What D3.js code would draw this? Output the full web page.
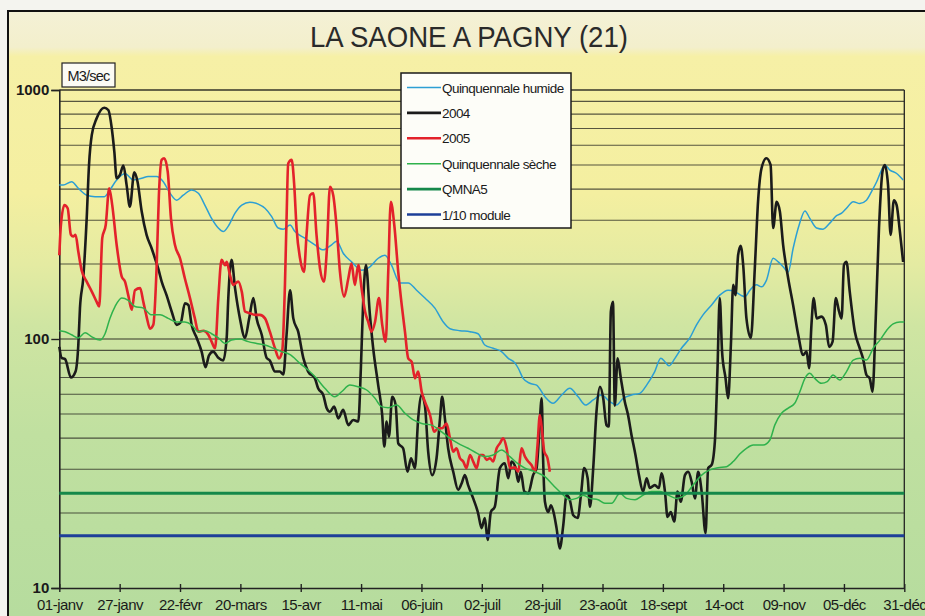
<!doctype html>
<html>
<head>
    <meta charset="utf-8">
    <title>La Saone a Pagny</title>
    <script src="https://d3js.org/d3.v7.min.js"></script>
    <style>
        body { margin: 0; background: #f4f4ef; }
        text { font-family: "Liberation Sans", Arial, sans-serif; }
    </style>
</head>
<body>
<div id="chart"></div>
<script>

    const tickDays = [0, 26, 52, 78, 104, 130, 156, 182, 208, 234, 260, 286, 312, 338, 364];
    const tickLabels = ["01-janv", "27-janv", "22-févr", "20-mars", "15-avr", "11-mai", "06-juin",
        "02-juil", "28-juil", "23-août", "18-sept", "14-oct", "09-nov", "05-déc", "31-déc"];
    const yTicks = [10, 100, 1000];

    const quinqHumide = [[0,415],[1.7,415],[5.3,428],[8.2,403],[11.8,378],[15.4,373],[19.4,373],[21.8,397],[24.7,435],[28.3,462],[31.9,435],[35.5,442],[38.3,449],[41.9,449],[44.8,428],[47.7,385],[50.6,361],[53.4,378],[57,397],[59.9,385],[62.7,345],[65.6,305],[68.5,279],[70.6,270],[72.8,284],[75.7,320],[78.6,345],[82.1,354],[85.7,348],[88.6,335],[91.5,310],[94.3,279],[96.5,276],[99.4,287],[101.5,270],[105.8,254],[110.1,239],[113.7,228],[117.3,239],[119.5,247],[122.3,221],[125.9,204],[130.2,189],[133.8,195],[137.4,211],[140.3,217],[143.1,198],[146.7,168],[150.3,168],[153.9,157],[157.5,146],[161.8,133],[165.4,117],[168.3,110],[172.6,108],[176.9,107],[180.4,105],[183.3,94.6],[186.9,91.8],[190.5,89],[193.4,83.6],[196.3,80],[197.7,76.3],[199.8,69.5],[202.7,66.4],[205.6,65.3],[209.2,58.6],[212.7,55.2],[216.4,59.6],[219.9,63.4],[223.5,58.6],[226.7,54.3],[230,56.9],[233.6,59.6],[237.2,56],[240,54.3],[242.9,57.8],[246.5,59.6],[250.1,60.5],[253,65.3],[256.5,74],[259.1,83.6],[260.9,81],[262.6,78],[265.2,83.6],[268,91.8],[271.6,101],[274.5,114],[277.3,125],[281,137],[284.5,150],[288.1,157],[291,155],[293.5,150],[295.3,148],[297.5,157],[300.3,165],[302.5,162],[304.6,172],[307.5,211],[309.7,204],[311.8,195],[314,186],[316.1,231],[318.7,287],[321.2,327],[323.3,305],[326.2,279],[329,276],[331.9,292],[334.8,313],[337,320],[339.1,335],[342,356],[344.8,350],[347.7,361],[349.9,391],[352.1,428],[354.2,477],[355.6,500],[357.8,477],[360.7,462],[363.5,435]];

    const debit2004 = [[0,93],[1,84],[2.5,83],[5,70],[7,74],[8.2,95],[8.9,133],[10.3,175],[11.8,305],[12.8,500],[14,660],[16.1,770],[19.4,849],[21.1,831],[22.6,702],[23.7,565],[24.7,442],[26.1,456],[27.6,497],[29,415],[30.4,340],[32.3,467],[33.7,428],[35.5,325],[37.6,262],[39.8,231],[41.2,211],[42.6,192],[44.1,170],[46.2,150],[48.4,129],[50.6,114],[52.4,117],[54.1,139],[55.6,137],[57,114],[59.2,101],[61.3,89],[63,77],[64.5,86],[66.3,89],[68.5,84],[70.6,82],[72.1,101],[72.8,146],[74.2,208],[75.7,160],[77.8,121],[80,101],[81.8,121],[83.6,146],[85,121],[87.2,104],[89.3,84],[90.7,82],[92.9,74],[95,74],[96.5,72],[97.9,104],[99.4,157],[100.8,121],[102.9,107],[105.1,84],[107.2,74],[110.1,69.5],[111.5,63.4],[113.7,59.6],[115.2,52.7],[116.6,51],[118.4,53.5],[120.2,48],[122.3,51.9],[124.5,45.1],[126.6,47.3],[128.8,46.6],[129.9,76],[130.9,141],[132.1,198],[133.8,125],[135.2,92],[137.4,65],[139.1,49.5],[140,37],[141,46.6],[142,40.5],[143.4,58.6],[144.9,54.3],[146,38.1],[148.1,36.4],[150,29.3],[151.5,33.2],[153.2,30.3],[154.6,48],[156.1,59.6],[157.5,54],[158.9,35.3],[160.6,28.4],[162.5,33.2],[164,48],[164.9,58.6],[166.1,48],[167.5,36.4],[169.7,29.3],[171.8,24.8],[173.3,26.3],[174.7,28.4],[176.1,25.9],[178.3,22.9],[180.4,20],[181.9,17.4],[183.3,19.1],[184.5,15.6],[185.9,20.2],[187.6,21.2],[189.8,30.3],[191.9,31.7],[193.4,27.6],[194.8,32.2],[196.5,30.5],[197.7,26.7],[198.8,29.3],[200.3,24.4],[202,24],[204.1,28.4],[205.6,30.3],[206.6,39.9],[207.8,57.8],[208.4,33.2],[209.2,22.2],[210.6,20.2],[211.8,21.5],[213.2,19.6],[214.2,17.4],[215.6,14.4],[217.1,17.9],[218.5,23.6],[219.9,22.6],[221.4,19.6],[223.3,19.1],[224.7,23.6],[226.1,30.3],[227.6,27.6],[228.6,21.2],[230,30.3],[231.4,51],[232.9,64.3],[234.3,57.8],[235.7,45.1],[236.7,44.5],[237.6,129],[238.5,141],[239.3,54],[240.5,83.6],[241.9,69.5],[243.6,56],[245,49.5],[246.5,41.1],[248.2,34.2],[249.7,28.4],[251.5,24.4],[253,27.6],[254.4,25.2],[256.5,25.9],[258.3,25.2],[259.4,28.9],[260.9,24.4],[262,19.3],[263.4,20.2],[264.9,18.5],[266.3,24.4],[267.7,22.2],[269.5,28.4],[270.9,29.3],[272.4,26.7],[273.8,22.9],[275.2,29.3],[276.7,24.4],[278.4,16.6],[279.5,30.3],[281,31.2],[282.4,38.7],[283.5,74],[284.5,146],[285.5,89],[287,69.5],[288.1,57.8],[289.3,94.6],[290.3,165],[291.3,150],[292.4,217],[293.5,237],[294.6,198],[296,121],[297.9,101],[299.6,192],[301,356],[302.5,485],[304.6,532],[306.4,500],[307.5,279],[309,356],[310.4,325],[311.8,239],[314,175],[316.1,137],[318.3,104],[320.4,86.3],[321.9,89],[323,76.3],[324,114],[325,146],[326.2,121],[328.3,123],[330.2,114],[331.6,93],[333.1,97.6],[334.5,146],[335.9,129],[337,121],[338,198],[339.1,204],[340.5,155],[342.7,107],[344.8,91.8],[346.2,83.6],[347.7,71.7],[349.1,69.5],[350.3,61.4],[351.7,121],[353.1,279],[354.6,470],[355.6,500],[357,415],[358.1,262],[359.5,361],[360.7,345],[362.1,270],[363.5,204]];

    const debit2005 = [[0,217],[0.7,287],[2.2,345],[3.6,335],[5,262],[6,258],[7,262],[8.2,224],[9.6,189],[11.8,170],[14,155],[16.1,141],[17.2,135],[18.5,254],[20,287],[21.5,403],[22.8,345],[24.7,239],[26.9,178],[28.3,170],[29.7,150],[31.2,131],[32.6,157],[34.8,160],[36.2,141],[37.6,123],[39.1,110],[40.5,114],[41.9,192],[42.9,378],[44.1,524],[45.2,532],[46.7,470],[48.1,305],[49.8,239],[52,211],[54.1,175],[56.3,146],[58.4,121],[59.9,107],[62,108],[64.2,104],[65.6,97.6],[67.1,91.8],[68.5,146],[69.9,208],[71.4,198],[72.1,204],[73.5,181],[74.9,165],[77.1,170],[78.6,155],[80,129],[82.1,127],[84.3,125],[86.4,125],[88.6,121],[90.7,107],[92.9,91.8],[94.6,83.6],[96,89],[97.2,165],[97.9,305],[98.6,507],[100.1,524],[101.2,415],[102.2,279],[103.7,211],[105.4,186],[106.5,262],[108,378],[109.4,385],[110.8,262],[112.3,192],[114,170],[115.2,224],[116.6,409],[118,378],[119.5,279],[120.9,186],[122.7,148],[124.5,175],[125.9,201],[127.3,165],[128.8,198],[130.2,160],[131.7,129],[133.1,117],[134.5,107],[136,117],[137.7,146],[139.1,114],[140.6,97.6],[141.7,186],[142.8,356],[144.3,287],[146,186],[147.5,137],[148.9,107],[150.3,83.6],[151.8,81],[153.2,69.5],[154.6,74],[156.1,61.4],[157.5,56],[159.7,49.5],[161.5,42.4],[163.2,43.8],[164.9,43.8],[166.8,45.8],[168.3,39.9],[169.7,35.3],[171.1,36.4],[172.6,33.2],[174,32.2],[175.4,30.3],[176.9,34.2],[178.3,32.2],[179.8,30.3],[181.2,34.2],[182.6,34.2],[184.1,32.7],[185.5,33.2],[186.9,32.2],[188.4,36.4],[189.8,38.1],[191.2,39.9],[192.7,36.4],[194.1,30.3],[196.3,30.5],[197.7,29.3],[199.1,36.4],[200.6,33.7],[202,32.2],[203.4,31.2],[204.9,29.3],[206,37.5],[207,49.5],[208,42.4],[208.9,35.3],[210.3,33.2],[211.3,29.3]];

    const quinqSeche = [[0,108],[2.5,107],[5.3,104],[8.2,101],[11.1,106],[14,102],[17.5,99],[19.7,105],[21.8,121],[24,135],[26.9,146],[29.7,143],[32.6,135],[36.2,133],[39.8,125],[43.4,125],[46.9,121],[50.6,117],[54.1,117],[57,114],[59.9,107],[62.7,108],[65.6,105],[68.5,101],[71.4,96],[74.2,99],[77.8,100],[81.4,97.6],[85,96],[88.6,94.6],[92.2,91.8],[95.8,89],[99.4,86.5],[103.7,79.8],[107.2,75.1],[110.8,69.5],[114.4,63.4],[118.7,58.6],[121.6,61.4],[125.2,65.3],[128.8,64.3],[132.4,62.4],[136,57.8],[138.8,53.5],[141.7,53],[145.3,54.3],[148.9,50.3],[152.5,47.3],[156.1,45.8],[160.4,45.1],[164.7,42.4],[168.3,39.9],[171.8,38.1],[176.1,36.4],[179.8,34.8],[183.3,33.7],[186.9,34.2],[190.5,35.8],[194.1,33.7],[197.7,31.5],[200.6,30.3],[204.9,29.3],[209.2,28],[212.7,25.9],[216.4,24],[219.9,22.6],[222.8,22.9],[225.7,23.6],[228.6,22.9],[232.1,22.6],[235,21.9],[237.9,21.9],[241.5,24],[244.4,22.9],[248,22.6],[251.5,23.6],[255.1,24.4],[258.7,24.4],[262.3,23.6],[265.9,22.9],[269.5,23.6],[273,25.9],[276.7,28.4],[280.2,29.8],[283.8,30.4],[287.4,30.7],[290.3,32.2],[293.1,34.5],[296,36.4],[298.9,37.5],[303.2,37.5],[306.1,39.3],[308.2,45.1],[311.1,50.3],[314,52.8],[316.8,55.2],[319,61.4],[321.2,69.5],[323.3,72.8],[325.4,69.5],[328.3,66.4],[330.8,67.4],[333.3,71.7],[336.2,68.4],[339.1,74],[342,82.3],[344.8,83.6],[347.7,82.3],[350.6,91.8],[353.5,99],[356.3,108],[359.2,115],[362.1,117],[364,117]];

    const qmna5 = 24;
    const dixiemeModule = 16.2;

    const legendNames = ["Quinquennale humide", "2004", "2005", "Quinquennale sèche", "QMNA5", "1/10 module"];
    const legendColors = ["#2c9fd4", "#1b1b1b", "#e3222b", "#2fb24c", "#15884a", "#1d3f99"];
    const legendWidths = [1.5, 2.6, 2.6, 1.5, 3, 3];

    // ---- canvas

    const W = 925, H = 616;
    const plotLeft = 59.3, plotRight = 904.3, plotTop = 90, plotBottom = 588;

    const svg = d3.select("#chart").append("svg")
        .attr("width", W)
        .attr("height", H);

    const defs = svg.append("defs");
    const grad = defs.append("linearGradient")
        .attr("id", "bg")
        .attr("gradientUnits", "userSpaceOnUse")
        .attr("x1", 0).attr("y1", 11).attr("x2", 0).attr("y2", H);
    [[0, "#f4f1d6"], [0.06, "#f3efcc"], [0.075, "#f6f0a6"], [0.3, "#f4efa0"], [0.42, "#e4eba2"],
     [0.52, "#cfe5a2"], [0.7, "#c0e0a0"], [1, "#b6dc9e"]].forEach(function(s){
        grad.append("stop").attr("offset", s[0]).attr("stop-color", s[1]);
    });

    svg.append("rect")
        .attr("x", 8).attr("y", 11)
        .attr("width", W).attr("height", H)
        .attr("fill", "url(#bg)")
        .attr("stroke", "#111")
        .attr("stroke-width", 2);

    svg.append("text")
        .attr("x", 469).attr("y", 47)
        .attr("text-anchor", "middle")
        .attr("font-size", 29)
        .attr("textLength", 318)
        .attr("lengthAdjust", "spacingAndGlyphs")
        .attr("fill", "#2a2a2a")
        .text("LA SAONE A PAGNY (21)");

    // ---- scales

    var x = d3.scaleLinear().domain([0, 364]).range([plotLeft, plotRight]);
    var y = d3.scaleLog().domain([10, 1000]).range([plotBottom, plotTop]);

    // minor + major gridlines
    var gridVals = [];
    [10, 100].forEach(function(base){
        for (var k = 1; k <= 9; k++) gridVals.push(base * k);
    });
    gridVals.push(1000);

    svg.append("g").selectAll("line")
        .data(gridVals.filter(function(v){ return v > 10; }))
        .enter()
        .append("line")
            .attr("x1", plotLeft).attr("x2", plotRight)
            .attr("y1", function(d){ return y(d); })
            .attr("y2", function(d){ return y(d); })
            .attr("stroke", "#2a2a22")
            .attr("stroke-opacity", function(d){ return (d == 100 || d == 1000) ? 0.95 : 0.78; })
            .attr("stroke-width", function(d){ return d == 1000 ? 1.6 : 1.1; });

    // right border of plot
    svg.append("line")
        .attr("x1", plotRight).attr("x2", plotRight)
        .attr("y1", plotTop).attr("y2", plotBottom)
        .attr("stroke", "#222").attr("stroke-width", 1.3);

    // ---- axes

    var xAxis = d3.axisBottom(x)
        .tickValues(tickDays)
        .tickSize(0)
        .tickFormat(function(d, i){ return tickLabels[i]; });

    var gx = svg.append("g")
        .attr("transform", "translate(0," + plotBottom + ")")
        .call(xAxis);
    gx.select(".domain").attr("stroke", "#222").attr("stroke-width", 1.6);
    gx.selectAll(".tick").append("line")
        .attr("y1", -4).attr("y2", 4)
        .attr("stroke", "#222").attr("stroke-width", 1.4);
    gx.selectAll("text")
        .attr("dy", 0).attr("y", 22)
        .attr("font-size", 15)
        .attr("letter-spacing", -0.5)
        .attr("fill", "#1a1a1a")
        .style("font-family", "Liberation Sans, Arial, sans-serif");

    var yAxis = d3.axisLeft(y)
        .tickValues(yTicks)
        .tickSize(8)
        .tickFormat(d3.format("d"));

    var gy = svg.append("g")
        .attr("transform", "translate(" + plotLeft + ",0)")
        .call(yAxis);
    gy.select(".domain").attr("stroke", "#222").attr("stroke-width", 1.6);
    gy.selectAll(".tick line").attr("stroke", "#222").attr("stroke-width", 1.4);
    gy.selectAll("text")
        .attr("x", -10)
        .attr("font-size", 15)
        .attr("font-weight", "bold")
        .attr("fill", "#1a1a1a")
        .style("font-family", "Liberation Sans, Arial, sans-serif");

    // unit box
    svg.append("rect")
        .attr("x", 62).attr("y", 63).attr("width", 53).attr("height", 24)
        .attr("fill", "#fbfbf4").attr("stroke", "#222").attr("stroke-width", 1.2);
    svg.append("text")
        .attr("x", 88.5).attr("y", 80.5)
        .attr("text-anchor", "middle")
        .attr("font-size", 14.5)
        .attr("letter-spacing", -0.8)
        .attr("fill", "#1a1a1a")
        .text("M3/sec");

    // ---- series

    var line = d3.line()
        .x(function(d){ return x(d[0]); })
        .y(function(d){ return y(d[1]); })
        .curve(d3.curveMonotoneX);

    function flat(v){ return [[0, v], [364, v]]; }

    var series = [quinqHumide, debit2004, debit2005, quinqSeche, flat(qmna5), flat(dixiemeModule)];

    svg.append("g").selectAll("path")
        .data(series)
        .enter()
        .append("path")
            .attr("d", line)
            .attr("fill", "none")
            .attr("stroke", function(d, i){ return legendColors[i]; })
            .attr("stroke-width", function(d, i){ return legendWidths[i]; })
            .attr("stroke-linejoin", "round");

    // ---- legend

    var lg = svg.append("g").attr("transform", "translate(401,73)");
    lg.append("rect")
        .attr("width", 170).attr("height", 155)
        .attr("fill", "#fdfdf8")
        .attr("stroke", "#1a1a1a").attr("stroke-width", 1.5);

    var items = lg.selectAll("g.item")
        .data(legendNames)
        .enter()
        .append("g")
            .attr("class", "item")
            .attr("transform", function(d, i){ return "translate(0," + (14.5 + i * 25.4) + ")"; });

    items.append("line")
        .attr("x1", 6).attr("x2", 40)
        .attr("stroke", function(d, i){ return legendColors[i]; })
        .attr("stroke-width", function(d, i){ return Math.min(legendWidths[i], 2.6); });

    items.append("text")
        .attr("x", 41).attr("y", 5)
        .attr("font-size", 13.5)
        .attr("letter-spacing", -0.55)
        .attr("fill", "#1a1a1a")
        .text(function(d){ return d; });

</script>
</body>
</html>
